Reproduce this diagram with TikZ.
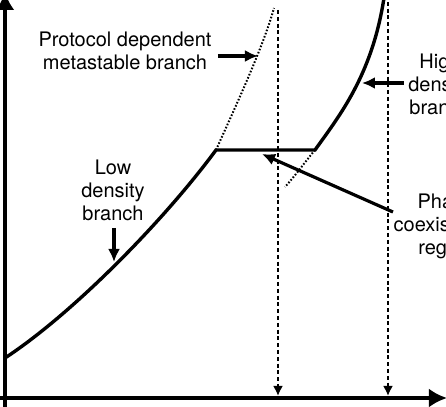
\documentclass[tikz,border=0pt]{standalone}
\usepackage{fontspec}
\setmainfont{TeX Gyre Heros}
\usetikzlibrary{arrows.meta}
\tikzset{
  branch/.style={line width=1.7pt},
  meta/.style={line width=1pt, dash pattern=on 0.8pt off 0.9pt},
  guide/.style={line width=1.3pt, dash pattern=on 2pt off 1.4pt, -{Latex[length=5pt,width=5pt]}},
  pointer/.style={line width=1.6pt, -{Latex[length=6.5pt,width=6pt]}},
  axis/.style={line width=2.4pt, -{Latex[length=9pt,width=9.5pt]}},
  lbl/.style={align=center, inner sep=0pt, font=\fontsize{10}{11.5}\selectfont},
}
\begin{document}
\begin{tikzpicture}[x=0.5pt, y=-0.5pt]
  \clip (0,0) rectangle (446,407);
  % axes
  \coordinate (ybase) at (5,407);
  \coordinate (yend) at (5,-8);
  \coordinate (xbase) at (0,398);
  \coordinate (xend) at (447,398);
  \draw[axis] (ybase) -- (yend);
  \draw[axis] (xbase) -- (xend);
  % guide lines down to the axis
  \coordinate (lowtop) at (278,10);
  \coordinate (lowfoot) at (278,396);
  \coordinate (hightop) at (388,-5);
  \coordinate (highfoot) at (388,396);
  \draw[guide] (lowtop) -- (lowfoot);
  \draw[guide] (hightop) -- (highfoot);
  % branches
  \coordinate (start) at (5,358);
  \coordinate (kink) at (216,150);
  \coordinate (hinge) at (315,150);
  \draw[branch] (start) .. controls (75,312) and (166,218) .. (kink)
    -- (hinge) .. controls (340,115) and (372,75) .. (384,-2);
  \draw[meta] (kink) .. controls (233,112) and (263,48) .. (274,8);
  \draw[meta] (hinge) .. controls (305,162) and (295,176) .. (285,187);
  % labels
  \node[lbl] (protlab) at (125,51) {Protocol dependent\\metastable branch};
  \node[lbl] (lowlab) at (113,190) {Low\\density\\branch};
  \node[lbl] (highlab) at (440,84) {High\\density\\branch};
  \node[lbl] (phaselab) at (446,226) {Phase\\coexistence\\region};
  % pointers
  \coordinate (prottail) at (218,56);
  \coordinate (prottip) at (258,56);
  \coordinate (lowtail) at (114,228);
  \coordinate (lowtip) at (114,262);
  \coordinate (hightail) at (404,83);
  \coordinate (hightip) at (362,83);
  \coordinate (phasetail) at (393,212);
  \coordinate (phasetip) at (262,154);
  \draw[pointer] (prottail) -- (prottip);
  \draw[pointer] (lowtail) -- (lowtip);
  \draw[pointer] (hightail) -- (hightip);
  \draw[pointer] (phasetail) -- (phasetip);
\end{tikzpicture}
\end{document}
